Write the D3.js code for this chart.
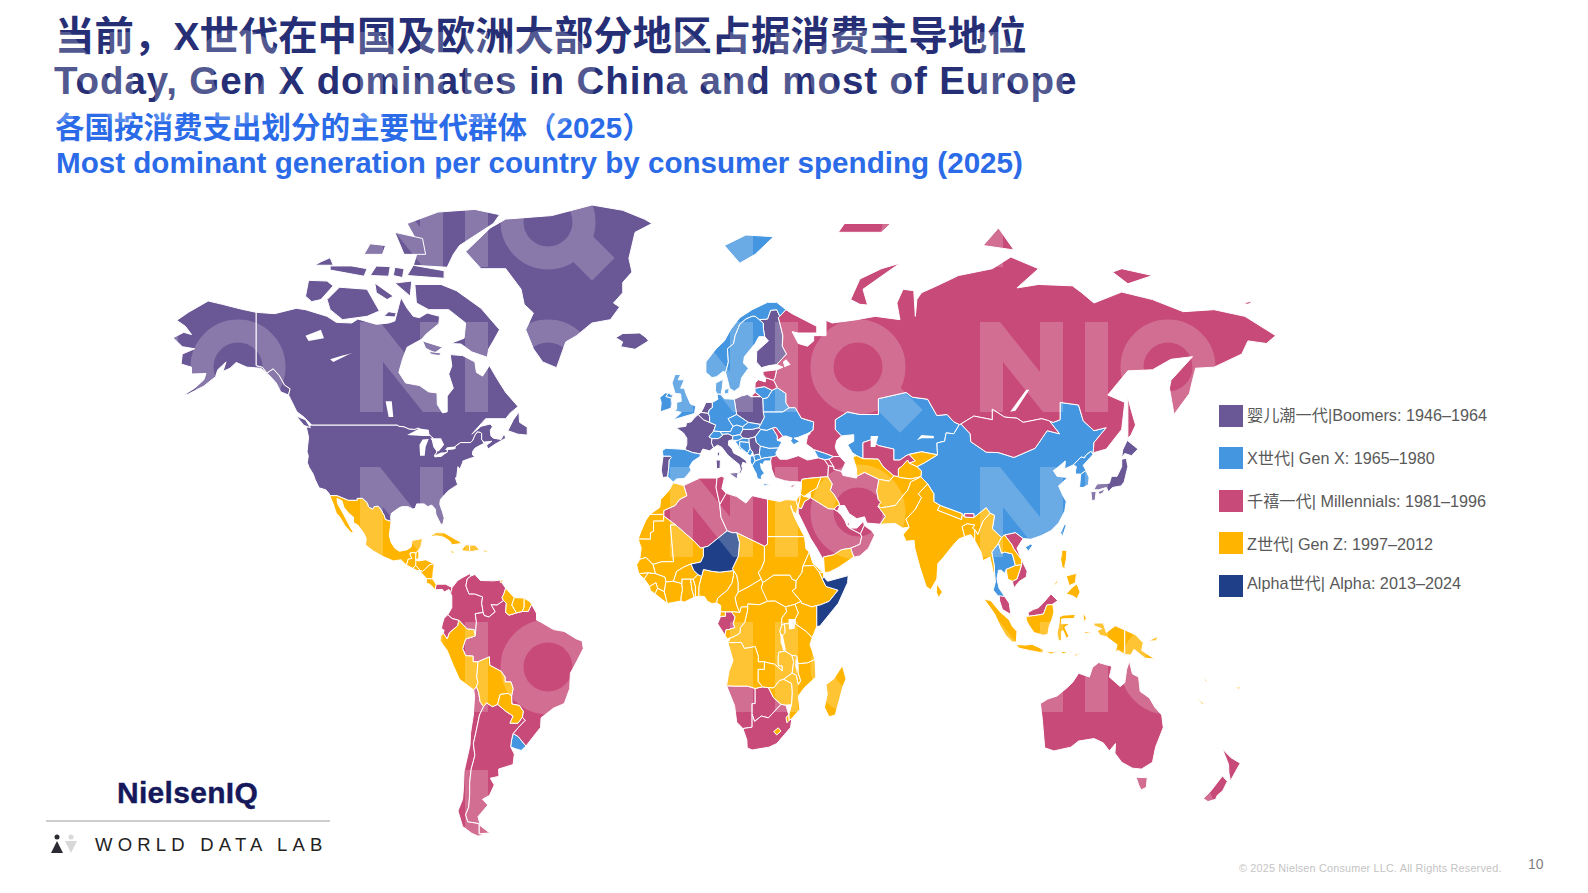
<!DOCTYPE html>
<html>
<head>
<meta charset="utf-8">
<style>
html, body { margin: 0; padding: 0; background: #fff; }
svg { display: block; }
</style>
<script src="https://cdn.jsdelivr.net/npm/d3@7"></script>
</head>
<body>
<svg id="chart" width="1588" height="893"></svg>
<script>
// Title block
const titles = [
    { text: "当前，X世代在中国及欧洲大部分地区占据消费主导地位", x: 55, y: 49.5, size: 39.4, fill: "#262f75", sp: 0 },
    { text: "Today, Gen X dominates in China and most of Europe", x: 54, y: 94, size: 38.6, fill: "#262f75", sp: 0.86 },
    { text: "各国按消费支出划分的主要世代群体（2025）", x: 55, y: 138, size: 29.5, fill: "#2b6be8", sp: 0 },
    { text: "Most dominant generation per country by consumer spending (2025)", x: 56, y: 173, size: 29.6, fill: "#2b6be8", sp: 0 },
];

// Legend
const genKeys = ["boomers", "genX", "millennials", "genZ", "alpha"];
const genLabels = [
    "婴儿潮一代|Boomers: 1946–1964",
    "X世代| Gen X: 1965–1980",
    "千禧一代| Millennials: 1981–1996",
    "Z世代| Gen Z: 1997–2012",
    "Alpha世代| Alpha: 2013–2024",
];
const genColors = ["#6a5795", "#4596e0", "#c84a78", "#ffb500", "#1f4089"];

// Dominant generation per country
const boomers = ["USA", "Alaska", "Canada", "Vancouver", "Newfoundland", "Baffin", "Victoria Is", "Banks", "Ellesmere", "Devon", "Melville", "Axel Heiberg", "Somerset", "Southampton", "Prince Patrick", "Bathurst", "Cornwallis", "Ringnes", "Prince of Wales", "King William", "Coats", "Greenland", "Iceland", "Finland", "France", "Corsica", "Italy", "Sicily", "Sardinia", "Portugal", "Poland", "Netherlands", "Belgium", "Hungary", "Serbia", "Honshu", "Hokkaido", "Kyushu", "Shikoku"];
const genX = ["Spain", "UK", "N Ireland", "Ireland", "Norway", "Svalbard", "Sweden", "Denmark", "Zealand", "Germany", "Switzerland", "Austria", "Czechia", "Slovakia", "Slovenia", "Croatia", "Bosnia", "Montenegro", "Albania", "Macedonia", "Bulgaria", "Romania", "Greece", "Crete", "Ukraine", "Belarus", "Lithuania", "Georgia", "Kazakhstan", "China", "Hainan", "Taiwan", "North Korea", "South Korea", "Thailand", "Uruguay"];
const millennials = ["Russia", "Kaliningrad", "Sakhalin", "Novaya Zemlya", "Severnaya Zemlya", "New Siberian", "Franz Josef", "Wrangel", "Latvia", "Estonia", "Moldova", "Turkey", "Cyprus", "Armenia", "Azerbaijan", "Iran", "Saudi Arabia", "Kuwait", "Qatar", "UAE", "Oman", "Uzbekistan", "Mongolia", "Bhutan", "Vietnam", "Malaysia W", "Malaysia E", "Algeria", "Tunisia", "Libya", "Gabon", "Namibia", "Botswana", "South Africa", "Panama", "Colombia", "Venezuela", "Ecuador", "Brazil", "Chile", "Argentina", "Tierra del Fuego", "Australia", "Tasmania", "NZ North", "NZ South"];
const genZ = ["Mexico", "Guatemala", "Belize", "Honduras", "El Salvador", "Nicaragua", "Costa Rica", "Cuba", "Haiti", "Dominican Rep", "Jamaica", "Puerto Rico", "Trinidad", "Guyana", "Suriname", "French Guiana", "Peru", "Bolivia", "Paraguay", "Morocco", "Western Sahara", "Mauritania", "Mali", "Senegal", "Guinea Bissau", "Guinea", "Sierra Leone", "Liberia", "Cote d'Ivoire", "Ghana", "Togo", "Benin", "Burkina Faso", "Nigeria", "Cameroon", "Eq Guinea", "CAR", "Chad", "Sudan", "South Sudan", "Egypt", "Eritrea", "Ethiopia", "Djibouti", "Kenya", "Uganda", "Tanzania", "Rwanda", "DRC", "Congo", "Angola", "Zambia", "Malawi", "Mozambique", "Zimbabwe", "Eswatini", "Lesotho", "Madagascar", "Syria", "Israel", "Jordan", "Iraq", "Yemen", "Turkmenistan", "Kyrgyzstan", "Tajikistan", "Afghanistan", "Pakistan", "India", "Nepal", "Bangladesh", "Sri Lanka", "Myanmar", "Laos", "Cambodia", "Sumatra", "Java", "Kalimantan", "Sulawesi", "Halmahera", "Seram", "Timor", "Sundas", "Flores", "Papua", "PNG", "New Britain", "Solomon", "New Caledonia", "Vanuatu", "Fiji", "Luzon", "Mindanao", "Visayas", "Palawan"];
const alpha = ["Niger", "Somalia"];

// Outlines, "lon,lat lon,lat ..."
const outlines = {
    "USA": "-124.7,48.4 -123,49 -95.2,49 -94.6,48.7 -93,48.6 -91.4,48.1 -89.6,48 -88.4,48.3 -84.9,46.9 -84.4,46.5 -83.5,46 -83.6,45.8 -82.5,45.3 -82.1,43.6 -82.5,42.6 -83.1,42.1 -82.7,41.7 -79,42.8 -79,43.3 -79.2,43.5 -76.8,43.6 -76.3,44.2 -74.7,45 -71.5,45 -70.8,45.4 -70.3,46.2 -70,46.7 -69.2,47.45 -68.3,47.35 -67.8,47.1 -67.8,45.7 -67,44.8 -68.5,44.3 -70,43.7 -70.7,43 -70.8,42.2 -70,41.7 -71.5,41.4 -73.9,40.8 -74,40.4 -74.9,38.9 -75.5,39.5 -75.9,37.2 -76.3,36.9 -75.6,35.3 -77,34.6 -78.5,33.8 -79.9,32.7 -81.2,31.5 -81.4,30.3 -80.5,28.3 -80,26.8 -80.4,25.2 -81.1,25.2 -81.9,26.5 -82.7,27.8 -82.8,29 -84,30.1 -85.3,29.7 -86.5,30.4 -88.9,30.4 -89.4,29.2 -90.2,29.1 -91.7,29.7 -93.8,29.7 -94.8,29.3 -97.1,28 -97.4,26.9 -97.2,25.9 -99.1,26.4 -99.5,27.5 -100.5,28.9 -101.4,29.8 -102.7,29.7 -103.2,29 -104.5,29.6 -105,30.7 -106.5,31.8 -108.2,31.8 -108.2,31.3 -111.1,31.3 -114.8,32.5 -117.1,32.5 -117.3,33 -118.4,34 -120.6,34.5 -121.9,36.6 -122.5,37.8 -123.8,39.3 -124.4,40.4 -124.1,42 -124.5,42.9 -124,46.2",
    "Alaska": "-141,69.6 -141,60.3 -139,60 -137.5,58.9 -135.5,59.7 -133.5,58.4 -131.8,56.6 -130,55.9 -130.5,54.7 -133,55.3 -134.5,57 -136.5,58.3 -139.5,59.8 -144,60 -147.5,60.9 -149.5,59.8 -151.8,59.2 -150.8,61 -153.5,59.5 -154.2,58.2 -158,56.4 -163,54.9 -164.8,54.6 -161,56 -158,57.6 -157.3,58.8 -162,58.7 -162,60 -165.4,60.6 -165,62.5 -161,63.5 -165,63.9 -168,65.6 -164.5,66.6 -162,66.2 -164,67.5 -166.8,68.4 -163,69.6 -156.6,71.3 -152,70.8 -146,70.1",
    "Canada": "-141,69.6 -135,69.4 -128,70.2 -125,70 -118,69 -115,68.1 -110,68 -108,68.6 -102,67.8 -98,68 -96,68.3 -94,71.8 -92,70.2 -90,69 -88,68.8 -85.5,69.5 -81.5,69 -81.7,67.9 -85.8,66.3 -87.3,65.3 -92,63.8 -93.5,61.5 -94.7,59 -92.5,57 -88,56.5 -85,55.3 -82.3,55.1 -82.2,52.9 -80.5,51.3 -79,51.5 -79,54.5 -77,56 -78.5,58.7 -77.5,60.2 -78,62.4 -74,62.2 -70,61 -69.5,59 -67.5,58.3 -65.3,60.3 -62.5,57.5 -60,55.2 -56,52.5 -58.5,51.3 -60,50.2 -66.5,50.2 -69,48.5 -71,46.9 -68,48.7 -65,49.2 -64.3,48.6 -65,47.8 -64.8,46.5 -64,46 -61.5,45.7 -60.5,47 -60,46 -63.5,44.6 -65.8,43.5 -66.2,44.4 -64.5,45.3 -67,45.1 -67.8,45.7 -67.8,47.1 -68.3,47.35 -69.2,47.45 -70,46.7 -70.3,46.2 -70.8,45.4 -71.5,45 -74.7,45 -76.3,44.2 -76.8,43.6 -79.2,43.5 -79,43.3 -79,42.8 -82.7,41.7 -83.1,42.1 -82.5,42.6 -82.1,43.6 -82.5,45.3 -83.6,45.8 -83.5,46 -84.4,46.5 -84.9,46.9 -88.4,48.3 -89.6,48 -91.4,48.1 -93,48.6 -94.6,48.7 -95.2,49 -123,49 -125.5,50.5 -127.8,51.5 -130.5,54.7 -130,55.9 -131.8,56.6 -133.5,58.4 -135.5,59.7 -137.5,58.9 -139,60 -141,60.3",
    "Vancouver": "-128,50.7 -125,50 -123.4,48.4 -125.5,48.9",
    "Newfoundland": "-59.3,47.7 -57.5,50 -55.7,51.5 -55.5,49.5 -53,48.5 -53,46.7 -56,46.9",
    "Baffin": "-66,61.9 -71,62.9 -74.5,64.4 -78,64.5 -73.5,65.5 -73,68 -78.5,70 -85,70 -89,71 -89.5,73.7 -81,73.7 -76,72.8 -68,70.2 -62,67 -64,65 -65.5,63.5",
    "Victoria Is": "-117,70 -113,68.5 -105,69 -101,69.8 -105,73 -114,73.3 -118,71.5",
    "Banks": "-125,72 -123,71.2 -120,71.5 -116,73.5 -118,74.2 -124,74.3",
    "Ellesmere": "-90,76.5 -79,76.2 -77,78 -75,79 -64,81.5 -62,82.5 -70,83.1 -82,82.8 -92,81.5 -88,79",
    "Devon": "-92,75 -80,74.6 -80,75.7 -90,76.5",
    "Melville": "-117,75.8 -106,74.9 -105,76 -110,76.4 -117,76.4",
    "Axel Heiberg": "-96,80.5 -87,79.8 -86,78 -93,78",
    "Somerset": "-96,73.9 -91,72 -90.5,74.2",
    "Southampton": "-87,65 -80.5,63.8 -83,62.7 -86,63.6",
    "Prince Patrick": "-122,76.5 -116,76.5 -117,77.6 -120,77",
    "Bathurst": "-104,75 -98,74.9 -97.5,76.3 -102,76.4",
    "Cornwallis": "-96.5,75 -93.5,74.7 -93,76 -96,76.2",
    "Ringnes": "-106,78 -100,78 -99,79 -104,79.2",
    "Prince of Wales": "-102.5,73.9 -96.5,72 -98.5,71.5 -102,72.5",
    "King William": "-99.5,69 -96,68.9 -95.5,69.5 -98,69.7",
    "Coats": "-85,63 -81,62.7 -81.5,62.2 -84,62.4",
    "Greenland": "-43.5,59.9 -48,61 -51,63.5 -53.5,67 -51,69.5 -54,70.8 -55,73 -60,76 -68,76 -73,78.3 -65,81 -60,82 -45,82.4 -32,83.6 -22,83 -15,82 -12.5,81.5 -18,80.5 -20,77.5 -19,75.5 -22,74 -22,72.5 -25,71 -23,70.4 -26,68.5 -32,68 -37,66 -40.5,64.8 -42.5,61.5",
    "Iceland": "-24.3,65.6 -22,66.4 -16.5,66.5 -14.6,65.7 -13.6,65 -18,63.4 -22.7,63.9 -22,64.8",
    "Mexico": "-117.1,32.5 -114.8,32.5 -111.1,31.3 -108.2,31.3 -108.2,31.8 -106.5,31.8 -105,30.7 -104.5,29.6 -103.2,29 -102.7,29.7 -101.4,29.8 -100.5,28.9 -99.5,27.5 -99.1,26.4 -97.2,25.9 -97.8,22.3 -97.2,20.5 -96,19 -94.5,18.2 -92,18.6 -90.7,19.3 -90.4,21 -87,21.5 -87.5,19.5 -88.2,18.5 -89.15,17.8 -91,17.8 -91,17.2 -90.4,16.4 -91.7,16.1 -92.2,14.6 -94,16 -96.5,15.7 -100,16.9 -103,18.3 -105.5,19.8 -105.3,21.5 -106,22.8 -108,25 -109.4,25.6 -109.4,27 -111,28 -112.5,29.5 -113.2,31.2 -114.8,31.8 -114.6,30.5 -112.8,28 -111.5,26 -110.3,24.2 -109.4,23.1 -110.2,23 -112.2,24.8 -114,27.2 -115,28 -116,30.4",
    "Guatemala": "-92.2,14.6 -91.7,16.1 -90.4,16.4 -91,17.2 -91,17.8 -89.15,17.8 -89.2,15.9 -88.3,15.7 -89.2,14.5 -90.2,13.8",
    "Belize": "-89.15,17.8 -88.2,18.5 -88.2,16.5 -89.2,15.9",
    "Honduras": "-89.2,15.9 -88.3,15.7 -86,16 -83.2,15 -84.7,14.7 -85.7,13.9 -87,13 -87.6,13.1 -88.5,13.9 -89.2,14.5",
    "El Salvador": "-90.2,13.8 -89.2,14.5 -88.5,13.9 -87.7,13.2 -88.8,13.2",
    "Nicaragua": "-87.6,13.1 -87,13 -85.7,13.9 -84.7,14.7 -83.2,15 -83.6,12.5 -83.7,11 -85.7,11.1 -87.7,12.9",
    "Costa Rica": "-85.7,11.1 -83.7,11 -82.6,9.6 -82.9,8.1 -84.5,9.5 -85.8,10",
    "Panama": "-82.6,9.6 -79.5,9.6 -77.4,8.7 -77.9,7.2 -78.4,8.2 -80,7.5 -80.5,8.2 -82.9,8.1",
    "Cuba": "-85,21.9 -82.5,23.1 -80,23 -75,20.7 -74.2,20.2 -77.5,19.9 -78,20.7 -80,21.8 -82.5,22.2",
    "Haiti": "-74.4,18.4 -73,19.9 -71.7,19.8 -71.7,18.1",
    "Dominican Rep": "-71.7,19.8 -70,19.8 -68.4,18.6 -70.5,18.2 -71.7,18.1",
    "Jamaica": "-78.3,18.4 -76.3,18.1 -77.2,17.7",
    "Puerto Rico": "-67.2,18.5 -65.6,18.4 -66,18 -67.2,18",
    "Trinidad": "-61.7,10.7 -61,10.7 -61,10.1 -61.8,10.1",
    "Colombia": "-77.4,8.7 -75.6,10.6 -74.2,11.3 -71.7,12.4 -71.3,11.8 -72.5,11 -72.9,9.2 -72.4,8 -71.9,7 -70.1,7 -67.5,6.2 -67.8,4.5 -67.3,2 -69.9,1.7 -69.5,-0.5 -69.9,-4.2 -70.3,-2.5 -72.5,-2.4 -75.2,-0.1 -77.4,0.4 -78.8,1.4 -77.5,3.3 -77.5,6.5 -77.9,7.2",
    "Venezuela": "-72.5,11 -71.3,11.8 -70,12.2 -68.2,10.6 -64,10.5 -61.8,10.7 -60,8.5 -60.6,7 -61.2,6 -60.7,5.2 -62.8,4 -64.7,4.1 -63.4,2.2 -65.5,0.8 -67,1.2 -67.3,2 -67.8,4.5 -67.5,6.2 -70.1,7 -71.9,7 -72.4,8 -72.9,9.2",
    "Guyana": "-60,8.5 -57.2,6 -58,4 -56.5,1.9 -58.9,1.3 -60,2 -59.8,4.5 -60.7,5.2 -61.2,6 -60.6,7",
    "Suriname": "-57.2,6 -54,5.9 -54,3.5 -54.6,2.3 -56.5,1.9 -58,4",
    "French Guiana": "-54,5.9 -52,4.8 -51.6,4.2 -52.7,2.3 -54.6,2.3 -54,3.5",
    "Ecuador": "-78.8,1.4 -77.4,0.4 -75.2,-0.1 -75.6,-1.5 -78.3,-3.4 -79,-5 -80.3,-3.4 -80,-2.7 -81,-2.2 -80,0.5",
    "Peru": "-80.3,-3.4 -79,-5 -78.3,-3.4 -75.6,-1.5 -75.2,-0.1 -72.5,-2.4 -70.3,-2.5 -69.9,-4.2 -73,-5 -74,-7.5 -73,-9.4 -70.6,-9.5 -70.6,-11 -69,-11 -69.4,-15 -69,-16.5 -69.5,-17.5 -70.4,-18.4 -75,-15.6 -77,-12 -79,-8 -81.3,-5.5 -81.2,-4.3",
    "Bolivia": "-69,-11 -65.3,-9.7 -65.2,-11.9 -61.5,-13.5 -60.2,-15 -60.2,-16.3 -58.3,-16.3 -57.6,-18 -58.1,-20 -59.2,-19.3 -61.8,-19.6 -62.6,-22.2 -64.3,-22.8 -66.2,-21.8 -67.2,-22.8 -68.3,-21.5 -68.8,-19 -69.5,-17.5 -69,-16.5 -69.4,-15",
    "Paraguay": "-58.1,-20 -59.2,-19.3 -61.8,-19.6 -62.6,-22.2 -60,-24 -57.6,-25.3 -58.6,-27.3 -56,-27.3 -54.6,-25.6 -54.3,-24 -55.6,-22.5 -58,-22.1",
    "Uruguay": "-58.4,-33.9 -58.1,-32 -57.6,-30.2 -56,-31 -53.4,-33.7 -55,-34.9 -57,-34.4",
    "Chile": "-69.5,-17.5 -68.8,-19 -68.3,-21.5 -67.2,-22.8 -68.5,-25 -69.7,-30 -70.5,-33 -70,-36 -71.2,-39 -71.7,-42 -71.7,-45 -72,-48 -73,-50 -72.3,-51.8 -69,-52.2 -68.6,-52.6 -68.6,-54.9 -66.5,-55.2 -69,-55.5 -71,-54.8 -74,-53 -75.5,-49 -74,-46 -73.7,-43 -73.5,-39.5 -71.6,-33.5 -71.4,-30 -70.5,-25 -70.1,-20 -70.4,-18.4",
    "Argentina": "-66.2,-21.8 -64.3,-22.8 -62.6,-22.2 -60,-24 -57.6,-25.3 -58.6,-27.3 -56,-27.3 -54.6,-25.6 -53.7,-26.5 -55.8,-28.4 -57.6,-30.2 -58.1,-32 -58.4,-33.9 -57.2,-35.7 -57.6,-38 -62.3,-39 -62.2,-40.6 -65,-41 -63.7,-42.5 -65.3,-45 -67.5,-46 -65.8,-47.5 -69,-50.5 -68.4,-52.3 -69,-52.2 -72.3,-51.8 -73,-50 -72,-48 -71.7,-45 -71.7,-42 -71.2,-39 -70,-36 -70.5,-33 -69.7,-30 -68.5,-25 -67.2,-22.8",
    "Tierra del Fuego": "-68.6,-52.6 -65.2,-54.7 -68.6,-54.9",
    "Brazil": "-51.6,4.2 -50,1.8 -50,0 -48.5,-0.6 -44.5,-2.5 -41,-3 -37,-5 -35.2,-5.5 -34.8,-7.5 -37,-11 -39,-14 -39.2,-18 -41,-22 -44.5,-23.2 -48.5,-25.8 -48.7,-28.5 -51,-31 -53.4,-33.7 -56,-31 -57.6,-30.2 -55.8,-28.4 -53.7,-26.5 -54.6,-25.6 -54.3,-24 -55.6,-22.5 -58,-22.1 -58.1,-20 -57.6,-18 -58.3,-16.3 -60.2,-16.3 -60.2,-15 -61.5,-13.5 -65.2,-11.9 -65.3,-9.7 -69,-11 -70.6,-11 -70.6,-9.5 -73,-9.4 -74,-7.5 -73,-5 -69.9,-4.2 -69.5,-0.5 -69.9,1.7 -67.3,2 -67,1.2 -65.5,0.8 -63.4,2.2 -64.7,4.1 -62.8,4 -60.7,5.2 -59.8,4.5 -60,2 -58.9,1.3 -56.5,1.9 -54.6,2.3 -52.7,2.3",

    "Portugal": "-8.9,41.9 -6.6,41.9 -6.2,41.6 -6.9,41 -7,39.7 -7.4,37.2 -9,37 -9.5,38.7",
    "Spain": "-9.2,43.1 -8,43.7 -3.5,43.5 -1.8,43.4 0.7,42.7 3.2,42.4 3.1,41.8 0.7,40.7 -0.3,39.5 0.2,38.7 -1,37.6 -2.1,36.8 -4.5,36.7 -5.6,36 -7.4,37.2 -7,39.7 -6.9,41 -6.2,41.6 -6.6,41.9 -8.9,41.9",
    "France": "-1.8,43.4 0.7,42.7 3.2,42.4 4,43.5 6.2,43.1 7.5,43.8 6.8,45 7,45.9 6,46.3 7.5,47.6 8.2,49 6.2,49.5 4.2,50 2.5,51 1.5,50.5 0.2,49.6 -1.3,49.4 -1.5,48.7 -4.7,48.4 -2.3,47.2 -1.2,46 -1.2,44.6",
    "Corsica": "8.6,42.5 9.5,43 9.4,41.5",
    "Belgium": "2.5,51 4.2,50 6.2,49.5 6.2,50.6 5.8,51.2 3.4,51.4",
    "Netherlands": "3.4,51.4 5.8,51.2 6.1,51.9 7.1,52.3 7.1,53.3 5,53.3 4,52",
    "Switzerland": "6,46.3 7,45.9 9,45.9 10.4,46.6 9.6,47.5 7.5,47.6",
    "Germany": "6.2,49.5 8.2,49 7.5,47.6 9.6,47.5 13,47.5 13.8,48.7 12.2,50.2 15,51 14.7,52 14.2,53.9 11,54 9.9,54.8 8.6,54.9 8.9,53.9 7.1,53.3 7.1,52.3 6.1,51.9 5.8,51.2 6.2,50.6",
    "Austria": "9.6,47.5 10.4,46.9 12.2,47 13.7,46.5 16.1,46.8 17,48 16.9,48.6 15,49 13.8,48.7 13,47.5",
    "Italy": "7.5,43.8 8.8,44.4 10.2,43.9 12,42.2 14,41 15.8,40 16.2,38.8 15.7,38 16.2,37.9 17,39 16.6,39.7 17,40.5 18.5,40.1 18,40.9 16,41.9 14,42.6 13.5,43.6 12.3,44.4 12.4,45.4 13.7,45.7 13.7,46.5 12.2,47 10.4,46.9 10.4,46.6 9,45.9 7,45.9 6.8,45",
    "Sicily": "12.5,38 15.5,38.2 15.1,36.7",
    "Sardinia": "8.3,41 9.7,41 9.6,39.1 8.5,39",
    "UK": "-5.5,50 1.3,51.2 1.7,52.6 0,53 -1.5,55 -2,56 -3.2,56 -2,57.6 -4,57.6 -3.2,58.6 -5,58.6 -6,57 -5,55 -3.2,54.9 -3,53.5 -4.5,53.3 -4.5,52 -5.2,51.7 -3,51.4",
    "N Ireland": "-7.2,55.1 -5.6,54.6 -6.2,54.1 -8,54.4",
    "Ireland": "-8,54.4 -6.2,54.1 -6,53 -6.3,52.2 -9.8,51.5 -9.5,53.3 -10,54.2 -8.2,55.1 -7.2,55.1",
    "Denmark": "8.6,54.9 9.9,54.8 10.3,56 10.6,57.7 8.2,57 8.1,55.6",
    "Zealand": "11,55.7 12.5,56 12.4,55 11,54.9",
    "Norway": "5,61 5,59 7,58 8.5,58.2 10.6,59.2 11.4,59 12.3,61 12,63.5 14,64.5 14.5,66 16,67.8 18,68.6 20,69 21,69 22.3,68.5 25,68.6 26,69.9 28,70 29,69 31,70 28,71.1 25,71.1 20,70 16,68.8 13,67 11,65 8.3,63.5",
    "Svalbard": "11,79 16,76.8 21,78 27,80 18,80.2",
    "Sweden": "11.4,59 12.7,56 14.2,55.4 16,56.2 16.6,58 18.8,59.8 17.2,60.8 17.5,62 21,64.5 22.2,65.8 24.1,65.8 23.7,67 23.6,68 21,69 20,69 18,68.6 16,67.8 14.5,66 14,64.5 12,63.5 12.3,61",
    "Finland": "24.1,65.8 25.3,65 21.5,63 21.4,61 23,59.9 25.5,60.3 28,60.5 31.2,62.5 29.8,64 30,66 29,68 28.5,68.8 29,69 28,70 26,69.9 25,68.6 22.3,68.5 21,69 23.6,68 23.7,67",
    "Poland": "14.2,53.9 14.7,52 15,51 18.8,49.5 22.8,49.1 24,50.5 23.6,52.6 23.5,54 22.8,54.4 19.6,54.4 18.5,54.8 16.5,54.5",
    "Czechia": "12.2,50.2 15,51 18.8,49.5 16.9,48.6 15,49 13.8,48.7",
    "Slovakia": "16.9,48.6 18.8,49.5 22.8,49.1 22.2,48.4 20,48 17,48",
    "Hungary": "16.1,46.8 17,48 20,48 22.2,48.4 22.8,48 21,46.3 18.9,45.9 17,46",
    "Slovenia": "13.7,46.5 16.1,46.8 17,46 15.5,45.5 13.7,45.5",
    "Croatia": "15.5,45.5 17,46 18.9,45.9 19,45 16,45.2 16,44 18.5,42.5 16,43.6 14.8,45 13.6,45",
    "Bosnia": "16,45.2 19,45 19.3,43.6 18.5,42.5 16,44",
    "Serbia": "18.9,45.9 21,46.3 21.4,45 22.7,44.2 22.4,42.8 22.4,42.3 21.5,42.3 20.5,42 20.2,42.8 19.3,43.6 19,45",
    "Montenegro": "19.3,43.6 20.2,42.8 19.4,41.9 18.5,42.5",
    "Albania": "19.4,41.9 20.5,42 21,40.8 20,39.7 19.4,40.6",
    "Macedonia": "20.5,42 21.5,42.3 22.4,42.3 23,41.3 21,40.8",
    "Bulgaria": "22.7,44.2 25.5,43.7 28.6,43.8 27.7,42.6 28,42 26.3,41.7 24,41.5 23,41.3 22.4,42.3 22.4,42.8",
    "Romania": "22.8,48 24.8,47.8 26.6,48.3 28.2,46.5 28.2,45.5 29.7,45.2 28.6,43.8 25.5,43.7 22.7,44.2 21.4,45 21,46.3",
    "Moldova": "26.6,48.3 27.8,48.4 30,46.4 28.2,45.5 28.2,46.5",
    "Greece": "20,39.7 21,40.8 23,41.3 24,41.5 26.3,41.7 26,40.8 24,40.8 23.5,40 22.7,40.2 23,39 24,38 23,37.4 23,36.5 21.7,36.8 21.3,38 20.8,38.6",
    "Crete": "23.6,35.6 26.3,35.3 24,35",
    "Ukraine": "24,50.5 23.6,51.5 30,51.5 32,52.3 34,52.3 36,50.3 40,49.6 39.8,47.8 38.2,47.1 35,46.2 33.6,46 35.5,45.3 33.5,44.5 32.5,45.4 33,46 31,46.5 30,46.4 27.8,48.4 26.6,48.3 24.8,47.8 22.8,48 22.2,48.4 22.8,49.1",
    "Belarus": "23.6,52.6 23.6,51.5 30,51.5 32,52.3 31,53.2 31,55 28.2,56.1 26.5,55.6 25,54.2 23.5,54",
    "Lithuania": "20.9,56 24,56.3 26.5,55.6 25,54.2 23.5,54 22.8,54.4 21,55.2",
    "Kaliningrad": "19.6,54.4 22.8,54.4 21,55.2",
    "Latvia": "21,57 22,57.6 24.3,57.2 24.4,58 27,57.5 28.2,56.1 26.5,55.6 24,56.3 20.9,56",
    "Estonia": "23.5,59.2 28,59.5 27.4,58 27,57.5 24.4,58 23.6,58.6",
    "Russia": "31,70 33,69.4 41,67.5 41,66.5 35,66.5 33,66.7 35,64.5 38,64 40,65 40,66 44,66 44,68.4 46,68 54,68.5 60,69 68,68.5 67,71 69,73 72.5,72.8 73,69 73.5,71.5 75,72.5 80,73.5 87,75 98,76 104,77.7 113,76 106,73.2 113,73.7 124,73.5 127,72.5 131,71 140,72.6 150,71.5 160,69.7 170,70 180,69 190,66 187,64.5 181,65 179,62.5 170,60 164,59.8 163,57.5 162,55 157,51 155.5,56 156,57.5 163,62 156,61.5 150,59.5 142,59.3 135.5,54.7 141,53.3 140,48 135,43.5 131,42.7 130.7,42.3 131,45 135,48.4 131,47.7 127.5,49.8 126,52.8 120,53.3 120,50 117.8,49.5 114,50.2 108,49.5 106,50.3 102,50.5 98,52 98,50 92,50.7 87.8,49.2 87.3,49.1 85.5,49.6 83.3,51 80,50.8 77,53.9 72,54.3 70,55.2 61,54 61,51 55,51 51,51.5 47,50 47,48 49,46.5 47.5,45.5 47,44 47.5,43 48.5,41.8 46.5,41.8 43.5,42.6 40,43.4 37.5,44.7 38,46.5 39,47.2 38.2,47.1 39.8,47.8 40,49.6 36,50.3 34,52.3 32,52.3 31,53.2 31,55 28.2,56.1 27,57.5 27.4,58 28,59.5 30,60 28,60.5 31.2,62.5 29.8,64 30,66 29,68 28.5,68.8 29,69",
    "Sakhalin": "142,54.3 143,52 144.5,49 143,46.7 142,46 142,50",
    "Novaya Zemlya": "52,71.5 55,70.8 57.5,70.7 56,73 68,76.8 62,76 55,74.5",
    "Severnaya Zemlya": "95,79 105,78.5 100,81",
    "New Siberian": "137,75.5 142,73.8 150,75 140,76",
    "Franz Josef": "48,80.5 62,80.5 65,81.5 50,81.5",
    "Wrangel": "179,71 183,71.3 181,70.8",
    "Georgia": "40,43.4 43.5,42.6 46.5,41.8 45,41.2 43.5,41.1 41.5,41.5",
    "Armenia": "43.5,41.1 45,41.2 46.5,39.5 44.8,39.7",
    "Azerbaijan": "45,41.2 46.5,41.8 48.5,41.8 50.3,40.4 49,38.4 46.5,38.9 46.5,39.5",
    "Turkey": "26,40.8 26.3,41.7 28,42 29,41.2 31.5,41.2 35,42 38,41 41.5,41.5 43.5,41.1 44.8,39.7 44.6,37.2 42.4,37.1 38,36.8 36.2,36.6 36,36 32.5,36.1 30.5,36.3 27.4,37 26.3,39",
    "Cyprus": "32.3,35 34.5,35.6 33,34.6",
    "Syria": "36,36 36.2,36.6 38,36.8 42.4,37.1 41,34.4 38.8,33.4 36.8,32.3 35.7,33 36,34.6",
    "Israel": "35.7,33 34.3,31.3 34.9,29.5 35.5,31.5",
    "Jordan": "35.7,33 36.8,32.3 39,32 37,31 36,29.2 34.9,29.5 35.5,31.5",
    "Iraq": "42.4,37.1 44.6,37.2 46,35.5 45.4,33.9 46.5,32.9 48,31 48.5,29.9 47.7,30 46.5,29.1 44.7,29.2 39,32 38.8,33.4 41,34.4",
    "Iran": "44.8,39.7 46.5,39.5 46.5,38.9 49,38.4 49.5,37.5 53.9,36.9 54,37.3 56.5,38.2 61.2,36.6 60.5,33.7 61,31.5 61.8,30.8 60.9,29.8 63.3,27.2 61.6,25.2 57.2,25.5 56.5,27.1 54,26.6 51.5,27.9 50,30 48.5,29.9 48,31 46.5,32.9 45.4,33.9 46,35.5 44.6,37.2",
    "Saudi Arabia": "34.9,29.5 36,29.2 37,31 39,32 44.7,29.2 46.5,29.1 47.7,28.5 48.9,27.6 50.2,26 50.8,24.8 51.6,24.2 55.2,22.7 55.6,22 55,20 52,19 49,18.6 46.5,17.3 43.2,16.7 42.8,16.4 41,19 39,21.5 37.2,24.5 35,28",
    "Kuwait": "46.5,29.1 47.7,30 48.5,29.9 47.7,28.5",
    "Qatar": "50.8,24.8 51.2,26.1 51.6,25",
    "UAE": "51.6,24.2 54,24.2 56.2,26 56.4,24.9 55.2,22.7",
    "Oman": "56.4,24.9 58.8,23.5 59.8,22.4 57.8,19 55,17 53,16.7 52,19 55,20 55.6,22 55.2,22.7",
    "Yemen": "43.2,16.7 46.5,17.3 49,18.6 52,19 53,16.7 48,14 45,12.8 43.5,12.7",
    "Kazakhstan": "47,50 51,51.5 55,51 61,51 61,54 70,55.2 72,54.3 77,53.9 80,50.8 83.3,51 85.5,49.6 87.3,49.1 85.5,47 83,47.2 82.5,45.3 80,44.9 80.2,42.2 75,42.9 71,42.3 70,42 68,41 66,41 66,43.5 61,44.3 58.5,45.6 56,45 56,41.3 54,42 52.5,42.7 51,44.5 53,45.3 53,46.8 49,46.5 47,48",
    "Uzbekistan": "56,45 58.5,45.6 61,44.3 66,43.5 66,41 68,41 70,42 71,42.3 73,40.8 71,40.3 70.5,41 68.5,39.5 67.5,39 67.5,37.2 66,37.4 62.5,39.5 61,41.2 57,41.3 56,41.3",
    "Turkmenistan": "52.7,41.8 54,42 56,41.3 57,41.3 61,41.2 62.5,39.5 66,37.4 64.5,36.2 61.2,36.6 56.5,38.2 54,37.3 53.9,39",
    "Kyrgyzstan": "71,42.3 75,42.9 80.2,42.2 76,40.4 73.5,39.5 71,40.3 73,40.8",
    "Tajikistan": "67.5,39 68.5,39.5 70.5,41 71,40.3 73.5,39.5 75,38.5 74.8,37.2 71.5,36.7 68,37 67.5,37.2",
    "Afghanistan": "61.2,36.6 64.5,36.2 66,37.4 67.5,37.2 68,37 71.5,36.7 74.8,37.2 71.5,36 70.5,33.8 69.5,33 66.5,30 62,29.4 60.9,29.8 61.8,30.8 61,31.5 60.5,33.7",
    "Pakistan": "60.9,29.8 62,29.4 66.5,30 69.5,33 70.5,33.8 71.5,36 74.8,37.2 77,35.5 74,33 75,32 73,29 70,26.5 71,24.4 68.8,24.2 66.5,25.4 61.6,25.2 63.3,27.2",
    "India": "77,35.5 79,33 79,31 81,30 80.2,28.8 88,26.4 88.2,27.9 89,27 92,26.9 96,29.4 97.3,28 95,26 94,24 93.3,22.5 92.3,23.8 91.5,24.2 92.3,25 89.8,25.3 88.2,24.6 89,22 87,21.3 85,19.5 82,16.5 80.3,15 80,11 78,8.1 76.5,9 74.5,14 72.8,19 72.6,21 70,20.8 69,22.5 71,24.4 70,26.5 73,29 75,32 74,33",
    "Nepal": "81,30 88.2,27.9 88,26.4 80.2,28.8",
    "Bhutan": "89,27.9 92,27.9 92,26.9 89,27",
    "Bangladesh": "88.2,24.6 89.8,25.3 92.3,25 91.5,24.2 92.3,23.8 92.3,21 91,22.5 89,22",
    "Sri Lanka": "80,9.7 81.8,7.5 80.5,6 79.8,7.5",
    "Myanmar": "97.3,28 98.7,27.5 98,24 101,21.8 100,20.3 97.8,18 98.6,14.5 98.9,10 98,14 97.2,16.7 95,15.8 94.3,18 92.3,21 92.3,23.8 93.3,22.5 94,24 95,26",
    "Thailand": "100,20.3 101,17.7 102,18 104.5,17.5 105.5,14.5 102.5,13.5 102,12.5 100.9,13.3 100,13.3 99.5,11 100.2,8.5 102,6.3 101,6 99.7,6.6 98.3,8 98.9,10 98.6,14.5 97.8,18",
    "Laos": "101,21.8 102,22.4 104.5,19.7 104.8,19 107.5,16 107.5,14.7 105.5,14.5 104.5,17.5 102,18 101,17.7 100,20.3",
    "Cambodia": "102.5,13.5 105.5,14.5 107.5,14.7 106,11 104.5,10.4 103,11",
    "Vietnam": "102,22.4 105.5,23 108,21.5 106,19 107.5,16 109.3,13 109,11.5 106.8,10.4 105,8.6 104.5,10.4 106,11 107.5,14.7 107.5,16 104.8,19 104.5,19.7",
    "Malaysia W": "100.2,6.5 102,6.3 103.5,4.5 104,1.5 101.3,2.8 100.4,5",
    "Malaysia E": "109.6,2 111.3,2.8 113,3.3 115,5 117,7 119.2,5.2 117.6,4.2 115.7,4 114.6,1.6 112.5,1.3 109.8,1",
    "Kalimantan": "109,1 109.8,1 112.5,1.3 114.6,1.6 115.7,4 117.6,4.2 118,2.2 117.5,0.5 116.5,-1.5 116,-3.8 114.5,-4 111.5,-3.3 110,-1.5 109,0",
    "Sumatra": "95.3,5.6 97.5,5.2 100.5,2.2 103.5,0 104.5,-1.7 106,-3 105.8,-5.8 104.5,-5.8 102.3,-4 100.5,-1.5 98.7,1.7",
    "Java": "105.5,-6.4 108.5,-6.6 110.9,-6.4 114.5,-7.7 114.4,-8.7 110,-8 106.5,-7.4",
    "Sulawesi": "119.8,0.8 121,1.3 125,1.5 124.5,0.4 120.5,0.3 120.5,-1 123.3,-0.9 121.5,-1.9 122.9,-4.3 122,-4.8 121,-2.8 120.5,-3 120.5,-5.5 119.5,-5.4 119,-3.5 119.7,-0.8",
    "Papua": "131,-0.8 134,-0.8 135,-3.3 137.9,-1.5 141,-2.6 141,-9.1 139,-8 138,-8.3 138.5,-6.5 135,-4.4 133,-4 132,-2.8 133.5,-2.3 131,-1.5",
    "PNG": "141,-2.6 144.5,-3.9 147,-6 146.5,-8 150.8,-10.3 147.5,-10 144,-7.7 143,-9.2 141,-9.1",
    "Halmahera": "127.5,2 128.5,0.5 128,-0.8 127.5,0.8",
    "Timor": "124,-10 127,-8.4 125,-9",
    "Sundas": "115,-8.2 119,-8.4 117,-9",
    "Flores": "120,-8.3 123,-8.3 121,-8.9",
    "Seram": "128,-3 130.8,-3.3 128,-3.6",
    "New Britain": "148.5,-5.5 152,-4.2 151,-5.5",
    "Solomon": "157,-7 160,-8.5 159,-8",
    "New Caledonia": "164,-20.2 167,-22.3 166.2,-22.2",
    "Vanuatu": "167,-15 167.8,-16.5 167,-16",
    "Fiji": "177.2,-17.6 178.6,-17.7 178,-18.2",
    "Luzon": "120.5,18.5 122.2,18.4 122,16 121.5,14.2 124,13 122.5,13.8 120.7,13.9 120.2,16",
    "Mindanao": "122,7 123.7,8.6 125.5,9.7 126.5,7.5 125.5,5.7 124,6.5",
    "Visayas": "122,11.8 125.3,12.5 125,10 123,9.2",
    "Palawan": "117.2,8.4 119.5,11.3 119,10",
    "Taiwan": "120.1,23 121.5,25.3 122,25 120.8,22",
    "Hainan": "108.7,19.3 110.5,20.1 111,19.7 109.7,18.2",
    "Honshu": "130.9,34 132,35.5 136,35.7 136.7,37.3 138.5,37.3 140,39.5 140,41.2 141.5,41.4 142,39.5 140.8,36 139.8,35 137,34.6 135.7,33.5 135,34.6 132.5,34",
    "Hokkaido": "140,41.6 140.3,43.3 141.8,45.5 145.3,43.5 143.2,42 141,42.5",
    "Kyushu": "130,33.5 131.7,33.6 131.4,31.4 130.3,31.2",
    "Shikoku": "132.3,33.5 134.5,34.2 134,33.3 132.9,32.8",
    "North Korea": "124.3,39.9 126.8,41.7 128,41.5 128.2,42 130,43 130.7,42.3 129.7,41.5 127.5,39.8 128.4,38.6 126.7,37.8 125,37.8 125,38.6 125.3,39.5",
    "South Korea": "126.7,37.8 128.4,38.6 129.4,37 129.2,35.3 127.5,34.6 126.3,34.6 126.6,37",
    "Mongolia": "87.8,49.2 92,50.7 98,50 98,52 102,50.5 106,50.3 108,49.5 114,50.2 116.5,49.8 119.8,47 115.8,47.7 111.9,43.7 105,41.6 100,42.7 96,42.8 91,45.2 90.8,47",
    "China": "73.5,39.5 76,40.4 80.2,42.2 80,44.9 82.5,45.3 83,47.2 85.5,47 87.3,49.1 87.8,49.2 90.8,47 91,45.2 96,42.8 100,42.7 105,41.6 111.9,43.7 115.8,47.7 119.8,47 116.5,49.8 117.8,49.5 120,50 120,53.3 126,52.8 127.5,49.8 131,47.7 135,48.4 131,45 130.7,42.3 130,43 128.2,42 128,41.5 126.8,41.7 124.3,39.9 121.5,39 121.7,40.8 119,39.2 117.8,38.6 119,37.3 122.5,37 119.5,35 120.8,32.7 122,31 121.5,28.5 119.5,25.5 117,23.5 114,22.3 110.5,21.3 108,21.5 105.5,23 102,22.4 101,21.8 98,24 98.7,27.5 97.3,28 96,29.4 92,26.9 92,27.9 89,27.9 89,27 88.2,27.9 81,30 79,31 79,33 77,35.5 74.8,37.2 75,38.5",

    "Morocco": "-5.6,35.8 -2.2,35.1 -1.2,32.5 -3.6,31.5 -5,30 -8.7,28.7 -8.7,27.7 -13.2,27.7 -10,29.5 -9.7,31.5 -7,33.8",
    "Western Sahara": "-13.2,27.7 -8.7,27.7 -8.7,26 -12,26 -12,23.4 -13,23 -13,21.3 -17,21.4 -16,23.5 -14.5,26.2",
    "Mauritania": "-17,21.4 -13,21.3 -13,23 -12,23.4 -12,26 -8.7,26 -8.7,27.3 -4.8,25 -6.5,25 -5.5,15.5 -9.3,15.5 -12.2,14.8 -14.5,16.6 -16.5,16.1 -16,19",
    "Algeria": "-2.2,35.1 3,36.9 8.6,36.9 8.3,34.6 9.5,30.2 9.9,27 11.9,23.5 5.7,19.5 4.2,19.2 3.3,19 1.2,20.8 -4.8,25 -8.7,27.3 -8.7,28.7 -5,30 -3.6,31.5 -1.2,32.5",
    "Tunisia": "8.6,36.9 10,37.3 11,37 10.2,34.3 11.6,33.1 9.5,30.2 8.3,34.6",
    "Libya": "11.6,33.1 15,32.3 18,30.6 20,32.5 25,31.6 25,22 25,20 24,19.5 15,23 13.5,23 11.9,23.5 9.9,27 9.5,30.2",
    "Egypt": "25,31.6 29,31 31,31.5 34.3,31.3 34.9,29.5 34.3,27.8 33.2,28.5 32.6,30 32.6,29.5 33.8,27 35.7,23.9 37,22 25,22",
    "Niger": "15,23 15.9,20.4 15.5,16.9 13.6,13.7 14,13.2 9.5,12.8 7,13 4.2,13.5 3.6,11.7 2.4,12.2 1,13.3 0.2,14.9 3.3,15.4 4.2,16.9 4.2,19.2 5.7,19.5 11.9,23.5 13.5,23",
    "Chad": "15,23 24,19.5 24,15.7 22.9,13.5 22,12.8 23,11 19,9 15.5,7.5 15.5,10 15,12 14,13.2 13.6,13.7 15.5,16.9 15.9,20.4",
    "Sudan": "25,22 37,22 37.5,18.8 38.6,18 36.5,14.3 36.2,12.7 34.3,10.5 33,10.9 32.3,12 27,12 23.5,10 23,11 22,12.8 22.9,13.5 24,15.7 24,19.5 25,20",
    "South Sudan": "23.5,10 27,12 32.3,12 33,10.9 34.3,10.5 34.2,8.5 33,7.8 35.9,5 33.9,4.2 30.8,3.5 27.4,5.1 25,5 23,8.6",
    "Eritrea": "36.5,14.3 38.6,18 39.8,15 43.1,12.7 41.8,12.8 40,14.5 36.9,14.4",
    "Ethiopia": "36.5,14.3 36.9,14.4 40,14.5 41.8,12.8 42.8,11 44,9 47.9,8 45,5 42,4 41,3.9 39.5,3.5 36,4.5 35.9,5 33,7.8 34.2,8.5 34.3,10.5 36.2,12.7",
    "Djibouti": "41.8,12.8 43.1,12.7 43.3,11.5 42.8,11",
    "Somalia": "42.8,11 43.3,11.5 44.5,10.4 51.2,11.9 51,10 48,4.5 42,-1.6 41,-1.7 41,2.9 41,3.9 42,4 45,5 47.9,8 44,9",
    "Kenya": "33.9,4.2 35.9,5 36,4.5 39.5,3.5 41,3.9 41,-1.7 39.5,-4.7 37.7,-3.1 34,-1 34,0.3 35,1.9",
    "Uganda": "30.8,3.5 33.9,4.2 35,1.9 34,0.3 34,-1 30.5,-1 29.6,-1.4 29.6,0.5 31.2,2.3",
    "Tanzania": "34,-1 37.7,-3.1 39.5,-4.7 38.8,-6.5 39.5,-8 40.4,-10.4 38,-11.3 34.9,-11.5 34.5,-9.5 32.9,-9.3 30.7,-8.2 29.4,-6 29.4,-4.4 30.7,-3.4 30.5,-1",
    "Rwanda": "29.6,-1.4 30.5,-1 30.7,-3.4 29.4,-4.4 29,-2.8",
    "DRC": "12.2,-6 13,-4.6 13.5,-4.6 16,-3.5 16.2,-2 17.6,-0.6 18.5,2.5 18.6,4.3 22.4,4.1 25,5 27.4,5.1 30.8,3.5 31.2,2.3 29.6,0.5 29.6,-1.4 29,-2.8 29.4,-4.4 29.4,-6 30.7,-8.2 28.7,-8.5 28.5,-9.5 28.5,-12 29.8,-12.1 29.8,-13.4 28.4,-12.4 27.2,-11.6 25.3,-11.3 24,-11 22,-11 22,-9.5 21,-7 17.5,-7.5 16.5,-5.9",
    "Congo": "11.2,-4 11.9,-5 13,-4.6 13.5,-4.6 16,-3.5 16.2,-2 17.6,-0.6 18.5,2.5 18.6,3.5 16.5,3.5 16,2 14,2.2 13.3,2.2 14.5,0.8 13.9,-0.9 14.4,-2 12.5,-2.5 11.6,-2.5",
    "Gabon": "9.8,1 11.3,1 11.3,2.2 13.3,2.2 14.5,0.8 13.9,-0.9 14.4,-2 12.5,-2.5 11.6,-2.5 11.2,-4 8.8,-1 9.3,0",
    "Eq Guinea": "9.5,1 11.3,1 11.3,2.2 9.8,2.2",
    "Cameroon": "8.5,4.6 9.8,3.9 9.8,2.2 11.3,2.2 13.3,2.2 14,2.2 16,2 15,4 14.5,6 15.5,7.5 15.5,10 15,12 14,13.2 14,12 13.5,10 12,8 10.2,6.8 8.8,5.8",
    "CAR": "14.5,6 15,4 16,2 16.5,3.5 18.6,3.5 18.6,4.3 22.4,4.1 25,5 27.4,5.1 23,8.6 23.5,10 23,11 19,9 15.5,7.5",
    "Nigeria": "2.7,6.4 4.5,6.3 5.5,5 7,4.4 8.5,4.6 8.8,5.8 10.2,6.8 12,8 13.5,10 14,12 14,13.2 9.5,12.8 7,13 4.2,13.5 3.6,11.7 2.8,9.1",
    "Benin": "1.6,6.2 2.7,6.4 2.8,9.1 3.6,11.7 2.4,12.2 0.9,11 1.6,9",
    "Togo": "1.2,6.1 1.6,6.2 1.6,9 0.9,11 0,11 0.5,8",
    "Ghana": "-3.1,5.1 -2,4.8 1.2,6.1 0.5,8 0,11 -2.8,11 -2.8,9.8 -2.6,8 -3,6.5",
    "Burkina Faso": "-5.5,10.4 -2.8,9.8 -2.8,11 0,11 0.9,11 2.4,12.2 1,13.3 0.2,14.9 -2,14.2 -4.5,13",
    "Cote d'Ivoire": "-7.5,4.4 -3.1,5.1 -3,6.5 -2.6,8 -2.8,9.8 -5.5,10.4 -8,10.2 -8.5,7.6",
    "Mali": "-12.2,14.8 -9.3,15.5 -5.5,15.5 -6.5,25 -4.8,25 1.2,20.8 3.3,19 4.2,19.2 4.2,16.9 3.3,15.4 0.2,14.9 -2,14.2 -4.5,13 -5.5,10.4 -8,10.2 -8.3,11.5 -11.4,12.4",
    "Guinea": "-13.3,9 -11.2,10 -10.7,8.5 -8.5,7.6 -8,10.2 -8.3,11.5 -11.4,12.4 -13.7,12.6 -15,11",
    "Senegal": "-17.5,14.7 -16.5,16.1 -14.5,16.6 -12.2,14.8 -11.4,12.4 -13.7,12.6 -16.8,12.4",
    "Guinea Bissau": "-16.8,12.4 -13.7,12.6 -15,11",
    "Sierra Leone": "-13.3,9 -11.2,10 -10.7,8.5 -11.5,7 -13,7.9",
    "Liberia": "-11.5,7 -10.7,8.5 -8.5,7.6 -7.5,4.4",
    "Angola": "12.2,-6 16.5,-5.9 17.5,-7.5 21,-7 22,-9.5 22,-11 24,-11 24,-13 22,-13 22,-16.2 23.4,-17.6 21,-18 18.5,-17.4 14,-17.4 11.7,-17.3 12.5,-13.5 13.8,-10.7",
    "Zambia": "22,-13 24,-13 24,-11 25.3,-11.3 27.2,-11.6 28.4,-12.4 29.8,-13.4 29.8,-12.1 28.5,-12 28.5,-9.5 28.7,-8.5 30.7,-8.2 32.9,-9.3 33.5,-11 33,-14 30.2,-15.6 28.8,-16 27,-17.9 25.3,-17.8 23.4,-17.6 22,-16.2",
    "Malawi": "32.9,-9.3 34.5,-9.5 34.9,-11.5 35,-14 35.8,-16 35,-17 34.3,-14.5 33,-14 33.5,-11",
    "Mozambique": "34.9,-11.5 38,-11.3 40.4,-10.4 40.7,-15 37,-17.8 35,-20 35.5,-23.5 32.9,-26 32,-26.5 31.9,-25 32.8,-22.3 33,-19 32.8,-16.7 30.2,-15.6 33,-14 34.3,-14.5 35,-17 35.8,-16 35,-14",
    "Zimbabwe": "25.3,-17.8 27,-17.9 28.8,-16 30.2,-15.6 32.8,-16.7 33,-19 32.8,-22.3 31,-22.4 29.4,-22.2 27,-20.5",
    "Botswana": "20,-22 21,-22 21,-18 23.4,-17.6 25.3,-17.8 27,-20.5 29.4,-22.2 26.5,-24.7 25.3,-25.8 23,-25.3 20.8,-26.8 20,-24.8",
    "Namibia": "11.7,-17.3 14,-17.4 18.5,-17.4 21,-18 21,-22 20,-22 20,-28.4 17,-28.8 15,-27 14.3,-22.5",
    "South Africa": "17,-28.8 20,-28.4 20,-24.8 20.8,-26.8 23,-25.3 25.3,-25.8 26.5,-24.7 29.4,-22.2 31,-22.4 31.9,-25 31,-25.7 32,-26.5 32.9,-26 32.5,-28.5 31,-30 28,-33 25.5,-34 20,-34.8 18.4,-34.2 18.3,-32",
    "Eswatini": "31,-25.7 31.9,-25 32,-26.5 31.3,-27.2",
    "Lesotho": "27,-29.6 28.5,-28.6 29.4,-29.5 28,-30.6",
    "Madagascar": "49.3,-12 50.5,-15.5 49.5,-17.5 47,-25 45,-25.5 43.5,-23 44.4,-19.5 44,-17 46.5,-15.5",

    "Australia": "113.6,-22 114.2,-26 115,-34.2 118,-35 123.5,-34 126,-32.3 131,-31.6 134,-32.8 136,-35 138,-33 137.8,-35.5 140,-37.5 143.5,-38.8 146.4,-39 150,-37.5 151,-34 153.5,-28.5 153,-25 150.8,-23 149,-20.5 146,-18.8 145.5,-15 143.5,-14.2 142.5,-10.8 141.6,-13 141,-16.5 139.5,-17.5 136,-15 136.8,-12.2 132.5,-11.2 130.5,-12.5 129.5,-15 126,-14 124,-16.5 122,-18 119,-20 116,-20.8",
    "Tasmania": "144.7,-40.8 148.3,-40.9 148,-43 146.3,-43.6 145.5,-42.5",
    "NZ North": "172.7,-34.5 175.5,-36.5 178.5,-37.7 177,-39.5 175.3,-41.6 174.8,-39.8 174.7,-38",
    "NZ South": "172.7,-40.5 174.3,-41.7 172.8,-43.8 171,-45 170.5,-46 168,-46.6 166.5,-45.8 169,-43.8",
};

const lakes = [
    "-92,46.7 -88,48.2 -85,47.9 -84.7,46.5 -87,46.5",
    "-87.8,42 -86.3,42 -86,44 -85,45.8 -87,45.7 -88,44.5",
    "-84.5,46 -81,46 -80,44.5 -81.7,43 -82.5,43 -83.5,44 -84,45.5",
    "-83.3,41.7 -81,41.7 -79,42.8 -81,42.7 -83,42.1",
    "-79.7,43.3 -76.3,43.5 -76.3,44.1 -79,43.9",
    "-124,65 -119,65.5 -120,67 -125,66",
    "-116,61 -111,62.4 -109.5,62.7 -113,62.2 -117,61.5",
    "-98,50.5 -96.5,50.5 -97,53.5 -99,53.5",
    "103.8,51.5 105.5,51.7 110,55.7 109,55.7",
    "73.5,45.5 75,46.7 79,46.5 79,46 75,46",
    "58.5,46.5 61,46.5 60,44 58.5,44",
    "30.5,60 32.5,60.5 31,61.5 30,61",
    "31.8,0.3 34,0.3 33.8,-2.3 32,-2.5",
    "29.2,-3.5 30,-4 31,-8 30,-8",
    "34.2,-9.6 35,-12 34.6,-14 34,-12",
];

// The source map is stretched north of the equator, so latitude goes through knots
const latKnots = [-60, -56, -43.6, -34.8, -25, 0, 11.8, 25, 36, 49, 66.5, 71, 77.7, 83.6, 85];
const yKnots = [855, 838, 790, 750, 715, 620, 576, 525, 482, 425, 333, 303, 257, 205, 190];
const xScale = d3.scaleLinear().domain([0, 100]).range([690.5, 998.5]);
const yScale = d3.scaleLinear().domain(latKnots).range(yKnots);

const projection = d3.geoTransform({
    point: function (lon, lat) {
        this.stream.point(xScale(lon), yScale(lat));
    },
});
const path = d3.geoPath(projection);

function ringFeature(text) {
    const ring = text.split(" ").map((p) => p.split(",").map(Number));
    ring.push(ring[0]);
    return { type: "Feature", geometry: { type: "Polygon", coordinates: [ring] } };
}

const generations = { boomers, genX, millennials, genZ, alpha };
const genColor = d3.scaleOrdinal().domain(genKeys).range(genColors);

const svg = d3.select("#chart");

// Land
genKeys.forEach((key) => {
    svg.append("g")
        .attr("class", "gen-" + key)
        .selectAll("path")
        .data(generations[key])
        .join("path")
        .attr("d", (name) => path(ringFeature(outlines[name])))
        .attr("fill", genColor(key))
        .attr("stroke", "#fff")
        .attr("stroke-width", 1)
        .attr("stroke-linejoin", "round");
});

svg.append("g")
    .selectAll("path")
    .data(lakes)
    .join("path")
    .attr("d", (d) => path(ringFeature(d)))
    .attr("fill", "#fff");

// Titles
svg.append("g")
    .selectAll("text")
    .data(titles)
    .join("text")
    .attr("x", (d) => d.x)
    .attr("y", (d) => d.y)
    .attr("fill", (d) => d.fill)
    .attr("font-size", (d) => d.size)
    .attr("letter-spacing", (d) => d.sp)
    .attr("font-weight", "bold")
    .attr("font-family", "'Liberation Sans','Noto Sans CJK SC',sans-serif")
    .text((d) => d.text);

// Watermark, repeated NIQ in translucent white over the land
const markRows = [77, 222, 367, 512, 667, 815];
const markCols = [-72, 238, 548, 858, 1168];
const mark = svg.append("g").attr("fill", "#fff").attr("opacity", 0.2);
markRows.forEach((cy) => {
    markCols.forEach((cx) => {
        mark.append("circle")
            .attr("cx", cx)
            .attr("cy", cy)
            .attr("r", 36)
            .attr("fill", "none")
            .attr("stroke", "#fff")
            .attr("stroke-width", 23)
            .attr("stroke-opacity", 1);
        // I
        mark.append("rect").attr("x", cx - 83).attr("y", cy - 45).attr("width", 23).attr("height", 90);
        // N
        const nx = cx - 188;
        mark.append("path").attr(
            "d",
            `M${nx},${cy - 45}h20l40,50v-50h23v90h-20l-40,-50v50h-23z`
        );
    });
});
// Q tails that show on the land
[[592, 258], [900, 410]].forEach(([tx, ty]) => {
    mark.append("rect")
        .attr("x", tx - 16)
        .attr("y", ty - 16)
        .attr("width", 32)
        .attr("height", 32)
        .attr("transform", `rotate(45 ${tx} ${ty})`);
});

// Legend
const legendY = [405, 447, 490, 532, 575];
const legendTextY = [421, 464, 507, 550, 589];
const legend = svg.append("g")
    .selectAll("g")
    .data(genLabels)
    .join("g")
    .attr("transform", (d, i) => `translate(1219,${legendY[i]})`);
legend.append("rect")
    .attr("width", 24)
    .attr("height", 22)
    .attr("fill", (d, i) => genColors[i]);
legend.append("text")
    .attr("x", 28)
    .attr("y", (d, i) => legendTextY[i] - legendY[i])
    .attr("fill", "#595959")
    .attr("font-size", 16.2)
    .attr("font-family", "'Liberation Sans','Noto Sans CJK SC',sans-serif")
    .text((d) => d);

// Logos
svg.append("text")
    .attr("x", 117)
    .attr("y", 803)
    .attr("fill", "#15185a")
    .attr("stroke", "#15185a")
    .attr("stroke-width", 0.4)
    .attr("font-size", 30)
    .attr("font-weight", "bold")
    .attr("letter-spacing", 0.3)
    .attr("font-family", "'Liberation Sans',sans-serif")
    .text("NielsenIQ");
svg.append("line")
    .attr("x1", 46).attr("x2", 330).attr("y1", 821).attr("y2", 821)
    .attr("stroke", "#9a9a9a").attr("stroke-width", 1);
svg.append("text")
    .attr("x", 95)
    .attr("y", 851)
    .attr("fill", "#222")
    .attr("font-size", 18.5)
    .attr("letter-spacing", 5.2)
    .attr("font-family", "'Liberation Sans',sans-serif")
    .text("WORLD DATA LAB");
svg.append("circle").attr("cx", 57).attr("cy", 837).attr("r", 2.5).attr("fill", "#2b2b33");
svg.append("path").attr("d", "M57,841l6,12h-12z").attr("fill", "#2b2b33");
svg.append("circle").attr("cx", 71).attr("cy", 837).attr("r", 2.5).attr("fill", "#d8d8d8");
svg.append("path").attr("d", "M65,841h12l-6,12z").attr("fill", "#d8d8d8");

// Footer
svg.append("text")
    .attr("x", 1239)
    .attr("y", 871.5)
    .attr("fill", "#c4c4c4")
    .attr("font-size", 10.8)
    .attr("letter-spacing", 0.2)
    .attr("font-family", "'Liberation Sans',sans-serif")
    .text("© 2025 Nielsen Consumer LLC. All Rights Reserved.");
svg.append("text")
    .attr("x", 1528)
    .attr("y", 869)
    .attr("fill", "#7f7f7f")
    .attr("font-size", 14)
    .attr("font-family", "'Liberation Sans',sans-serif")
    .text("10");
</script>
</body>
</html>
